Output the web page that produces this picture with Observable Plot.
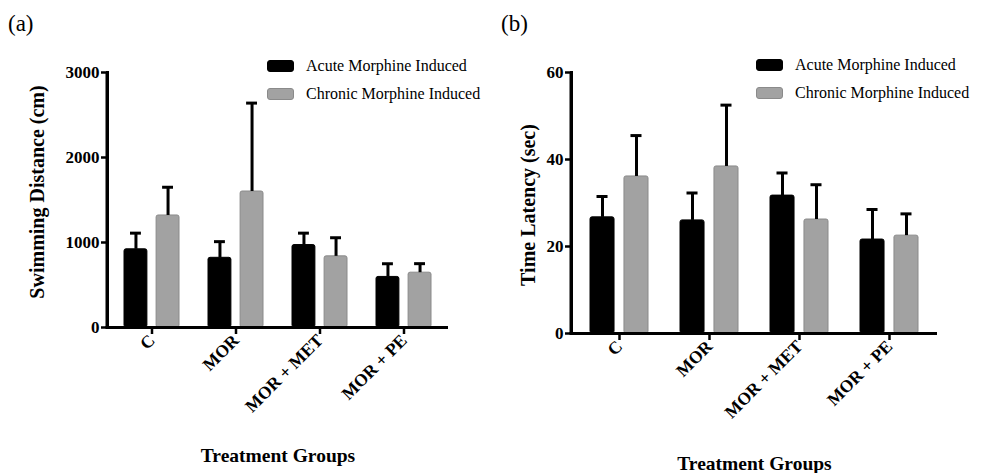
<!DOCTYPE html>
<html><head><meta charset="utf-8">
<script src="https://cdn.jsdelivr.net/npm/d3@7"></script>
<script src="https://cdn.jsdelivr.net/npm/@observablehq/plot@0.6"></script>
<style>
body{margin:0;background:#fff;}
#wrap{position:relative;width:988px;height:473px;font-family:"Liberation Serif","Times New Roman",serif;color:#000;}
.panel{position:absolute;top:0;width:494px;height:473px;}
.panel svg{position:absolute;left:0;top:0;}
.plabel{position:absolute;font-size:23px;line-height:1;top:12px;}
.legend{position:absolute;font-size:16px;line-height:1;}
.row{display:flex;align-items:center;height:28px;}
.sw{width:27px;height:12px;border-radius:3px;margin-right:12px;box-sizing:border-box;}
</style></head><body>
<div id="wrap"></div>
<script>
// ---- data ----
const groups = ["C", "MOR", "MOR + MET", "MOR + PE"];
const seriesNames = ["Acute Morphine Induced", "Chronic Morphine Induced"];
const seriesColors = ["#000000", "#a2a2a2"];
const seriesStroke = ["#000000", "#8a8a8a"];

// panel (a) Swimming distance (cm)
const distAcute = [920, 820, 970, 595];
const distAcuteErr = [190, 190, 140, 155];
const distChronic = [1318, 1600, 837, 645];
const distChronicErr = [332, 1040, 219, 106];
const distTicks = [0, 1000, 2000, 3000];

// panel (b) Time latency (sec)
const latAcute = [26.7, 26.0, 31.7, 21.6];
const latAcuteErr = [4.8, 6.3, 5.2, 6.9];
const latChronic = [36.1, 38.4, 26.2, 22.5];
const latChronicErr = [9.4, 14.1, 8.0, 5.0];
const latTicks = [0, 20, 40, 60];

const panelLabels = ["(a)", "(b)"];
const yTitles = ["Swimming Distance (cm)", "Time Latency (sec)"];
const xTitle = "Treatment Groups";

function makePanel(cfg) {
  const W = 494, H = 473;
  const rows = groups.flatMap((g, i) => [
    {group: g, s: 0, mean: cfg.acute[i], err: cfg.acuteErr[i]},
    {group: g, s: 1, mean: cfg.chronic[i], err: cfg.chronicErr[i]}
  ]);
  const n = groups.length;
  const rangeLen = W - cfg.mL - cfg.mR;
  const step = rangeLen / (n - cfg.pi + 2 * cfg.po);
  const bw = step * (1 - cfg.pi);
  const bar = cfg.barWidth, cap = cfg.capWidth;
  const off = bw / 2 - bar / 2;
  const ymax = cfg.ticks[cfg.ticks.length - 1];
  const marks = [];
  for (const s of [0, 1]) {
    const d = rows.filter(r => r.s === s);
    marks.push(Plot.barY(d, {
      x: "group", y: "mean", fill: seriesColors[s], stroke: seriesStroke[s], strokeWidth: 1,
      insetLeft: s === 0 ? 0 : bw - bar, insetRight: s === 0 ? bw - bar : 0, rx: 2
    }));
    marks.push(Plot.ruleX(d, {
      x: "group", y1: "mean", y2: r => r.mean + r.err, dx: s === 0 ? -off : off,
      stroke: "#000", strokeWidth: 3
    }));
    marks.push(Plot.tickY(d, {
      x: "group", y: r => r.mean + r.err, stroke: "#000", strokeWidth: 3,
      insetLeft: s === 0 ? bar / 2 - cap / 2 : bw - bar / 2 - cap / 2,
      insetRight: s === 0 ? bw - bar / 2 - cap / 2 : bar / 2 - cap / 2
    }));
  }
  marks.push(Plot.axisY({ticks: cfg.ticks, tickFormat: d => String(d), tickSize: 6, tickPadding: 2,
    strokeWidth: 2.5, fontSize: 17, fontWeight: "bold", label: null}));
  marks.push(Plot.axisX({tickRotate: -45, tickSize: 7, tickPadding: 3, strokeWidth: 2.5,
    fontSize: 17.5, fontWeight: "bold", label: null}));
  marks.push(Plot.text([cfg.yTitle], {text: d => d, frameAnchor: "left", textAnchor: "middle",
    lineAnchor: "middle", rotate: -90, dx: cfg.yTitleDx, dy: cfg.yTitleDy, fontSize: 20, fontWeight: "bold"}));
  marks.push(Plot.text([xTitle], {text: d => d, frameAnchor: "bottom", textAnchor: "middle",
    lineAnchor: "middle", dy: cfg.xTitleDy, fontSize: 19.5, fontWeight: "bold"}));
  // axis lines drawn last: x-axis baseline and the vertical y-axis line at the frame's left edge
  marks.push(Plot.ruleY([0], {stroke: "#000", strokeWidth: 3, insetLeft: -1.5}));
  marks.push(Plot.frame({anchor: "left", stroke: "#000", strokeWidth: 3}));
  marks.push(Plot.barY([ymax], {y1: () => 0, y2: d => d, fill: "#000",
    insetLeft: -1.5, insetRight: rangeLen - 1.5}));
  return Plot.plot({
    width: W, height: H,
    marginLeft: cfg.mL, marginRight: cfg.mR, marginTop: cfg.mT, marginBottom: cfg.mB,
    x: {type: "band", domain: groups, paddingInner: cfg.pi, paddingOuter: cfg.po, label: null},
    y: {domain: [0, ymax], label: null},
    style: {fontFamily: "Liberation Serif, Times New Roman, serif", color: "#000", background: "transparent", overflow: "visible"},
    marks
  });
}

const wrap = document.getElementById("wrap");
const cfgs = [
  {left: 0, acute: distAcute, acuteErr: distAcuteErr, chronic: distChronic, chronicErr: distChronicErr,
   ticks: distTicks, yTitle: yTitles[0], mL: 107, mR: 46, mT: 72, mB: 146, pi: 0.34, po: 0.176,
   barWidth: 24, capWidth: 12, yTitleDx: -70, yTitleDy: -8, xTitleDy: 128,
   legendLeft: 267, legendTop: 52, labelLeft: 8},
  {left: 494, acute: latAcute, acuteErr: latAcuteErr, chronic: latChronic, chronicErr: latChronicErr,
   ticks: latTicks, yTitle: yTitles[1], mL: 77, mR: 51, mT: 72, mB: 140, pi: 0.352, po: 0.187,
   barWidth: 25, capWidth: 12, yTitleDx: -43, yTitleDy: 2, xTitleDy: 130,
   legendLeft: 262, legendTop: 51, labelLeft: 7}
];
cfgs.forEach((cfg, k) => {
  const p = document.createElement("div");
  p.className = "panel";
  p.style.left = cfg.left + "px";
  p.appendChild(makePanel(cfg));
  const lab = document.createElement("div");
  lab.className = "plabel";
  lab.style.left = cfg.labelLeft + "px";
  lab.textContent = panelLabels[k];
  p.appendChild(lab);
  const leg = document.createElement("div");
  leg.className = "legend";
  leg.style.left = cfg.legendLeft + "px";
  leg.style.top = cfg.legendTop + "px";
  seriesNames.forEach((name, s) => {
    const row = document.createElement("div");
    row.className = "row";
    const sw = document.createElement("span");
    sw.className = "sw";
    sw.style.background = seriesColors[s];
    sw.style.border = "1px solid " + seriesStroke[s];
    const t = document.createElement("span");
    t.textContent = name;
    row.appendChild(sw); row.appendChild(t);
    leg.appendChild(row);
  });
  p.appendChild(leg);
  wrap.appendChild(p);
});
</script>
</body></html>
